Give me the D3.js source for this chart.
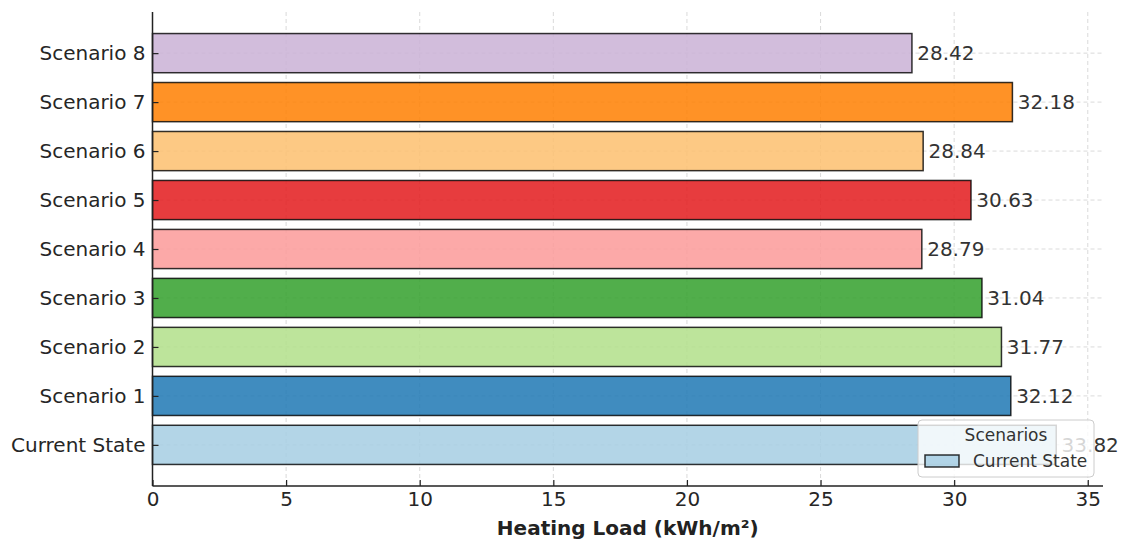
<!DOCTYPE html>
<html>
<head>
<meta charset="utf-8">
<script src="https://cdn.jsdelivr.net/npm/d3@7"></script>
<style>
  body { margin: 0; background: #fff; }
  svg { font-family: "DejaVu Sans", sans-serif; }
</style>
</head>
<body>
<svg id="chart" width="1127" height="542"></svg>
<script>
// ── data ──────────────────────────────────────────────
const categories = ["Current State", "Scenario 1", "Scenario 2", "Scenario 3", "Scenario 4",
                    "Scenario 5", "Scenario 6", "Scenario 7", "Scenario 8"];
const values     = [33.82, 32.12, 31.77, 31.04, 28.79, 30.63, 28.84, 32.18, 28.42];
const colors     = ["#a6cee3", "#1f78b4", "#b2df8a", "#33a02c", "#fb9a99",
                    "#e31a1c", "#fdbf6f", "#ff7f00", "#cab2d6"];
const xTicks     = [0, 5, 10, 15, 20, 25, 30, 35];

// ── layout ────────────────────────────────────────────
const L = 152.5, R = 1103, T = 12, B = 486;
const BAR_H = 0.8;
const FS = 20;

const svg = d3.select("#chart");
const x = d3.scaleLinear().domain([0, 35.57]).range([L, R]);
const y = d3.scaleLinear().domain([-0.84, categories.length - 1 + 0.84]).range([B, T]);

// grid
const grid = svg.append("g").attr("stroke", "#b0b0b0").attr("stroke-opacity", 0.6)
    .attr("stroke-dasharray", "4,3").attr("stroke-width", 0.8);
xTicks.forEach(t => grid.append("line")
    .attr("x1", x(t)).attr("x2", x(t)).attr("y1", T).attr("y2", B));
categories.forEach((c, i) => grid.append("line")
    .attr("x1", L).attr("x2", R).attr("y1", y(i)).attr("y2", y(i)));

// bars
const bars = svg.append("g");
categories.forEach((c, i) => {
    bars.append("rect")
        .attr("x", x(0))
        .attr("y", y(i + BAR_H / 2))
        .attr("width", x(values[i]) - x(0))
        .attr("height", y(i - BAR_H / 2) - y(i + BAR_H / 2))
        .attr("fill", colors[i]).attr("fill-opacity", 0.85)
        .attr("stroke", "#000").attr("stroke-opacity", 0.8).attr("stroke-width", 1.5);
});

// value labels
const labels = svg.append("g").attr("font-size", FS).attr("fill", "#333");
categories.forEach((c, i) => {
    labels.append("text")
        .attr("x", x(values[i] + 0.2))
        .attr("y", y(i))
        .attr("dy", "0.36em")
        .text(values[i].toFixed(2));
});

// axes
const xAxis = svg.append("g").attr("transform", `translate(0,${B})`)
    .call(d3.axisBottom(x).tickValues(xTicks).tickSize(-6).tickPadding(6).tickFormat(d3.format("d")));
const yAxis = svg.append("g").attr("transform", `translate(${L},0)`)
    .call(d3.axisLeft(y).tickValues(d3.range(categories.length)).tickSize(-6).tickPadding(7)
        .tickFormat(i => categories[i]));
[xAxis, yAxis].forEach(a => {
    a.select(".domain").attr("stroke", "#222").attr("stroke-width", 1.5);
    a.selectAll(".tick line").attr("stroke", "#222").attr("stroke-width", 1.2);
    a.selectAll(".tick text").attr("font-size", FS).attr("fill", "#262626")
        .attr("font-family", "DejaVu Sans, sans-serif");
});
xAxis.select(".domain").attr("d", `M${L},0H${R}`);
yAxis.select(".domain").attr("d", `M0,${T}V${B}`);

// x label
svg.append("text")
    .attr("x", (L + R) / 2).attr("y", 535)
    .attr("text-anchor", "middle").attr("font-size", 20).attr("font-weight", "bold")
    .attr("fill", "#222")
    .text("Heating Load (kWh/m²)");

// legend
const lg = svg.append("g").attr("transform", "translate(918,420)");
lg.append("rect").attr("width", 176).attr("height", 57).attr("rx", 4)
    .attr("fill", "#fff").attr("fill-opacity", 0.8)
    .attr("stroke", "#ccc").attr("stroke-width", 1);
lg.append("text").attr("x", 88).attr("y", 21).attr("text-anchor", "middle")
    .attr("font-size", 17).attr("fill", "#333").text("Scenarios");
lg.append("rect").attr("x", 7).attr("y", 35).attr("width", 34).attr("height", 12)
    .attr("fill", colors[0]).attr("fill-opacity", 0.85)
    .attr("stroke", "#000").attr("stroke-opacity", 0.8).attr("stroke-width", 1.5);
lg.append("text").attr("x", 55).attr("y", 47)
    .attr("font-size", 17).attr("fill", "#333").text(categories[0]);
</script>
</body>
</html>
